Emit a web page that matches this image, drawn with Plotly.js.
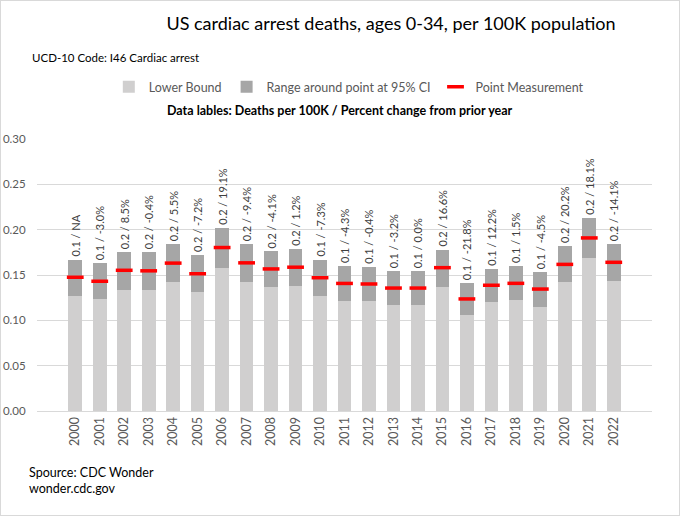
<!DOCTYPE html>
<html>
<head>
<meta charset="utf-8">
<script src="https://cdn.plot.ly/plotly-3.0.1.min.js"></script>
<style>
  body { margin: 0; background: #fff; }
  #myDiv { width: 680px; height: 516px; }
  #frame { position: absolute; left: 0; top: 0; width: 680px; height: 516px;
           box-sizing: border-box; border: 1px solid #d9d9d9; pointer-events: none; }
</style>
</head>
<body>
<div id="myDiv"></div>
<div id="frame"></div>
<script>
// years on the x axis
var years = ['2000', '2001', '2002', '2003', '2004', '2005', '2006', '2007', '2008', '2009', '2010', '2011',
             '2012', '2013', '2014', '2015', '2016', '2017', '2018', '2019', '2020', '2021', '2022'];

// deaths per 100K
var lowerBound = [0.127, 0.123, 0.134, 0.134, 0.142, 0.131, 0.158, 0.142, 0.137, 0.138, 0.127, 0.121,
                  0.121, 0.117, 0.117, 0.137, 0.106, 0.120, 0.122, 0.115, 0.142, 0.169, 0.143];
var upperBound = [0.167, 0.163, 0.175, 0.175, 0.184, 0.172, 0.202, 0.184, 0.176, 0.179, 0.167, 0.160,
                  0.159, 0.154, 0.154, 0.178, 0.141, 0.157, 0.160, 0.153, 0.182, 0.213, 0.184];
var point = [0.1475, 0.1431, 0.1552, 0.1546, 0.1631, 0.1514, 0.1803, 0.1634, 0.1567, 0.1586, 0.1470, 0.1407,
             0.1401, 0.1356, 0.1356, 0.1581, 0.1236, 0.1387, 0.1408, 0.1345, 0.1617, 0.1909, 0.1640];

// data labels: rounded rate / percent change from prior year
var rateLabel = ['0.1', '0.1', '0.2', '0.2', '0.2', '0.2', '0.2', '0.2', '0.2', '0.2', '0.1', '0.1',
                 '0.1', '0.1', '0.1', '0.2', '0.1', '0.1', '0.1', '0.1', '0.2', '0.2', '0.2'];
var pctChange = ['NA', '-3.0%', '8.5%', '-0.4%', '5.5%', '-7.2%', '19.1%', '-9.4%', '-4.1%', '1.2%', '-7.3%', '-4.3%',
                 '-0.4%', '-3.2%', '0.0%', '16.6%', '-21.8%', '12.2%', '1.5%', '-4.5%', '20.2%', '18.1%', '-14.1%'];

var range = upperBound.map(function (u, i) { return u - lowerBound[i]; });
var labels = rateLabel.map(function (r, i) { return r + ' / ' + pctChange[i]; });

var font = 'Lato, "Open Sans", sans-serif';

var trace1 = {
    type: 'bar',
    x: years,
    y: lowerBound,
    name: 'Lower Bound',
    marker: { color: '#d0cfcf' },
    hoverinfo: 'skip'
};

var trace2 = {
    type: 'bar',
    x: years,
    y: range,
    name: 'Range around point at 95% CI',
    marker: { color: '#a6a6a6' },
    text: labels,
    textposition: 'outside',
    textangle: -90,
    constraintext: 'none',
    cliponaxis: false,
    textfont: { family: font, size: 11, color: '#404040' },
    hoverinfo: 'skip'
};

var trace3 = {
    type: 'scatter',
    mode: 'markers',
    x: years,
    y: point,
    name: 'Point Measurement',
    marker: {
        symbol: 'line-ew',
        size: 12,
        color: '#ff0000',
        line: { color: '#ff0000', width: 3.5 }
    }
};

var layout = {
    width: 680,
    height: 516,
    margin: { l: 37, r: 28, t: 139, b: 105 },
    paper_bgcolor: '#fff',
    plot_bgcolor: '#fff',
    font: { family: font, color: '#595959' },
    barmode: 'stack',
    bargap: 0.44,
    showlegend: true,
    title: {
        text: 'US cardiac arrest deaths, ages 0-34, per 100K population',
        font: { family: font, size: 18, color: '#000' },
        x: 0.5756, xref: 'paper', xanchor: 'center',
        y: 0.955, yref: 'container', yanchor: 'middle'
    },
    legend: {
        orientation: 'h',
        x: 0.507, xanchor: 'center',
        y: 1.191, yanchor: 'middle',
        font: { family: font, size: 12.5, color: '#595959' },
        itemwidth: 30,
        traceorder: 'normal'
    },
    xaxis: {
        type: 'category',
        tickangle: -90,
        tickfont: { family: font, size: 12.5, color: '#595959' },
        showline: true,
        linecolor: '#d9d9d9',
        linewidth: 1,
        ticks: '',
        fixedrange: true
    },
    yaxis: {
        range: [0, 0.30],
        dtick: 0.05,
        tickformat: '.2f',
        tickfont: { family: font, size: 11.5, color: '#595959' },
        gridcolor: '#d9d9d9',
        zeroline: false,
        ticks: 'outside',
        ticklen: 8,
        tickcolor: 'rgba(0,0,0,0)',
        fixedrange: true
    },
    annotations: [
        {
            text: 'UCD-10 Code: I46 Cardiac arrest',
            xref: 'paper', yref: 'paper', x: -0.0114, y: 1.298,
            xanchor: 'left', yanchor: 'middle', showarrow: false,
            font: { family: font, size: 11.5, color: '#000' }
        },
        {
            text: '<b>Data lables: Deaths per 100K / Percent change from prior year</b>',
            xref: 'paper', yref: 'paper', x: 0.4927, y: 1.1066,
            xanchor: 'center', yanchor: 'middle', showarrow: false,
            font: { family: font, size: 12.5, color: '#000' }
        },
        {
            text: 'Spource: CDC Wonder<br>wonder.cdc.gov',
            xref: 'paper', yref: 'paper', x: -0.0163, y: -0.19,
            xanchor: 'left', yanchor: 'top', align: 'left', showarrow: false,
            font: { family: font, size: 12.5, color: '#000' }
        }
    ]
};

Plotly.newPlot('myDiv', [trace1, trace2, trace3], layout, { displayModeBar: false, staticPlot: true });
</script>
</body>
</html>
